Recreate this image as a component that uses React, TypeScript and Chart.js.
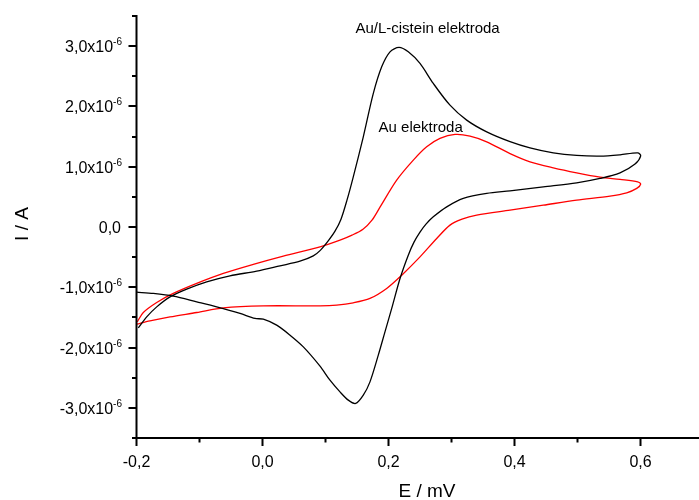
import React, { useEffect, useRef } from "react";
import { Chart, registerables } from "chart.js";

Chart.register(...registerables);

// Potential E (V) and current I (in units of 1e-6 A)
const auCysE = [
  -0.1971, -0.1838, -0.1679, -0.1468, -0.1203, -0.0886, -0.0516, -0.0092, 0.0278, 0.0595,
  0.0806, 0.0913, 0.104, 0.1151, 0.1246, 0.1341, 0.1441, 0.16, 0.1759, 0.1892, 0.2024,
  0.2167, 0.2314, 0.25, 0.2711, 0.2976, 0.3241, 0.3559, 0.3929, 0.4246, 0.4616,
  0.4987, 0.5357, 0.5675, 0.5956, 0.6003,
  0.5913, 0.5675, 0.5357, 0.4987, 0.4457, 0.3929, 0.3559, 0.3187, 0.2924, 0.2711,
  0.2595, 0.25, 0.2405, 0.2314, 0.2183, 0.2051, 0.1944, 0.1838, 0.1706, 0.16, 0.1479,
  0.1362, 0.123, 0.1071, 0.0913, 0.0648, 0.0437, 0.0225, 0.0013, -0.0119, -0.0357,
  -0.0727, -0.1044, -0.1416, -0.1733, -0.1997,
];
const auCysI = [
  -1.673, -1.491, -1.325, -1.159, -1.031, -0.91, -0.81, -0.732, -0.644, -0.567,
  -0.479, -0.392, -0.234, -0.069, 0.13, 0.445, 0.832, 1.496, 2.216, 2.657, 2.906,
  2.979, 2.906, 2.713, 2.381, 2.021, 1.773, 1.578, 1.416, 1.313, 1.23,
  1.187, 1.175, 1.197, 1.23, 1.18,
  1.044, 0.898, 0.805, 0.732, 0.666, 0.6, 0.557, 0.474, 0.334, 0.168,
  0.047, -0.085, -0.251, -0.467, -0.854, -1.351, -1.739, -2.126, -2.569, -2.789, -2.927,
  -2.872, -2.735, -2.541, -2.308, -1.988, -1.794, -1.628, -1.529, -1.517, -1.434,
  -1.325, -1.242, -1.147, -1.102, -1.081,
];

const auE = [
  -0.1987, -0.1892, -0.1679, -0.1416, -0.1044, -0.0622, -0.0146, 0.033, 0.0913, 0.123,
  0.1421, 0.1595, 0.1738, 0.1865, 0.213, 0.2394, 0.2606, 0.2817, 0.3056, 0.3294,
  0.3559, 0.3929, 0.4246, 0.4616, 0.4987, 0.5357, 0.5675, 0.5956, 0.6003,
  0.594, 0.5781, 0.5516, 0.4987, 0.4457, 0.3929, 0.34, 0.3167, 0.2976, 0.2765,
  0.25, 0.221, 0.1971, 0.1706, 0.1441, 0.1178, 0.0913, 0.0013, -0.0622, -0.1044,
  -0.1468, -0.1786, -0.1997,
];
const auI = [
  -1.573, -1.418, -1.252, -1.102, -0.936, -0.771, -0.621, -0.484, -0.329, -0.218,
  -0.135, -0.036, 0.114, 0.329, 0.777, 1.109, 1.33, 1.469, 1.535, 1.507,
  1.413, 1.217, 1.081, 0.981, 0.898, 0.827, 0.789, 0.749, 0.711,
  0.64, 0.567, 0.512, 0.445, 0.362, 0.28, 0.197, 0.13, 0.031, -0.19,
  -0.495, -0.799, -1.019, -1.185, -1.258, -1.296, -1.308, -1.308, -1.341, -1.418,
  -1.491, -1.557, -1.612,
];

const seriesNames = ["Au/L-cistein elektroda", "Au elektroda"];
const seriesColors = ["#000000", "#ff0000"];

const yMajorTicks = [-3, -2, -1, 0, 1, 2, 3];
const yMinorTicks = [-3.5, -2.5, -1.5, -0.5, 0.5, 1.5, 2.5, 3.5];
const xMajorTicks = [-0.2, 0, 0.2, 0.4, 0.6];
const xMinorTicks = [-0.1, 0.1, 0.3, 0.5];

// Text annotations placed in data coordinates
const labelE = [0.262, 0.251];
const labelI = [3.28, 1.65];

const xTitle = "E / mV";
const yTitle = "I / A";

const FONT = "'Liberation Sans', Arial, sans-serif";

const fmtX = (v: number) => v.toFixed(1).replace(".", ",");

const axesPlugin = {
  id: "originAxes",
  afterDraw(chart: any) {
    const { ctx, chartArea: ca, scales } = chart;
    const xs = scales.x;
    const ys = scales.y;
    ctx.save();
    ctx.strokeStyle = "#000";
    ctx.fillStyle = "#000";
    ctx.lineWidth = 2;
    ctx.beginPath();
    ctx.moveTo(ca.left, ca.top - 1);
    ctx.lineTo(ca.left, ca.bottom);
    ctx.lineTo(ca.right + 2, ca.bottom);
    ctx.stroke();

    // y ticks
    ctx.beginPath();
    yMajorTicks.forEach((v) => {
      const p = Math.round(ys.getPixelForValue(v));
      ctx.moveTo(ca.left - 8, p);
      ctx.lineTo(ca.left, p);
    });
    yMinorTicks.forEach((v) => {
      const p = Math.round(ys.getPixelForValue(v));
      ctx.moveTo(ca.left - 4.5, p);
      ctx.lineTo(ca.left, p);
    });
    // x ticks
    xMajorTicks.forEach((v) => {
      const p = xs.getPixelForValue(v);
      ctx.moveTo(p, ca.bottom);
      ctx.lineTo(p, ca.bottom + 8);
    });
    xMinorTicks.forEach((v) => {
      const p = xs.getPixelForValue(v);
      ctx.moveTo(p, ca.bottom);
      ctx.lineTo(p, ca.bottom + 4.5);
    });
    ctx.stroke();

    // y tick labels
    const xr = ca.left - 14.5;
    yMajorTicks.forEach((v) => {
      const p = ys.getPixelForValue(v);
      ctx.textAlign = "right";
      ctx.textBaseline = "alphabetic";
      if (v === 0) {
        ctx.font = `16px ${FONT}`;
        ctx.fillText("0,0", xr - 1, p + 6);
      } else {
        ctx.font = `10px ${FONT}`;
        const sup = "-6";
        const sw = ctx.measureText(sup).width;
        ctx.fillText(sup, xr, p - 1);
        ctx.font = `16px ${FONT}`;
        ctx.fillText(v.toFixed(1).replace(".", ",") + "x10", xr - sw, p + 6);
      }
    });

    // x tick labels
    ctx.font = `16px ${FONT}`;
    ctx.textAlign = "center";
    ctx.textBaseline = "alphabetic";
    xMajorTicks.forEach((v) => {
      const p = xs.getPixelForValue(v);
      ctx.fillText(fmtX(v), p, ca.bottom + 28.5);
    });

    // axis titles
    ctx.font = `19px ${FONT}`;
    ctx.fillText(xTitle, 427, 497);
    ctx.save();
    ctx.translate(28, 224);
    ctx.rotate(-Math.PI / 2);
    ctx.fillText(yTitle, 0, 0);
    ctx.restore();

    // series annotations
    ctx.font = `15px ${FONT}`;
    ctx.textBaseline = "middle";
    seriesNames.forEach((n, i) => {
      ctx.fillText(n, xs.getPixelForValue(labelE[i]), ys.getPixelForValue(labelI[i]));
    });
    ctx.restore();
  },
};

export default function App() {
  const ref = useRef<HTMLCanvasElement>(null);
  useEffect(() => {
    if (!ref.current) return;
    const chart = new Chart(ref.current, {
      type: "scatter",
      data: {
        datasets: [
          {
            label: seriesNames[0],
            data: auCysE.map((e, i) => ({ x: e, y: auCysI[i] })),
            borderColor: seriesColors[0],
            backgroundColor: seriesColors[0],
            borderWidth: 1.3,
            showLine: true,
            pointRadius: 0,
            tension: 0.3,
          },
          {
            label: seriesNames[1],
            data: auE.map((e, i) => ({ x: e, y: auI[i] })),
            borderColor: seriesColors[1],
            backgroundColor: seriesColors[1],
            borderWidth: 1.3,
            showLine: true,
            pointRadius: 0,
            tension: 0.3,
          },
        ],
      },
      options: {
        responsive: false,
        animation: false,
        devicePixelRatio: 1,
        layout: { padding: { left: 136.5, right: 0.5, top: 16, bottom: 62 } },
        plugins: { legend: { display: false }, tooltip: { enabled: false } },
        scales: {
          x: { type: "linear", min: -0.2, max: 0.7, display: false },
          y: { type: "linear", min: -3.5, max: 3.5, display: false },
        },
      },
      plugins: [axesPlugin],
    });
    return () => chart.destroy();
  }, []);
  return (
    <div
      style={{
        position: "fixed",
        left: 0,
        top: 0,
        width: 699,
        height: 500,
        overflow: "hidden",
        background: "#fff",
      }}
    >
      <canvas ref={ref} width={704} height={500} style={{ width: 704, height: 500 }} />
    </div>
  );
}
